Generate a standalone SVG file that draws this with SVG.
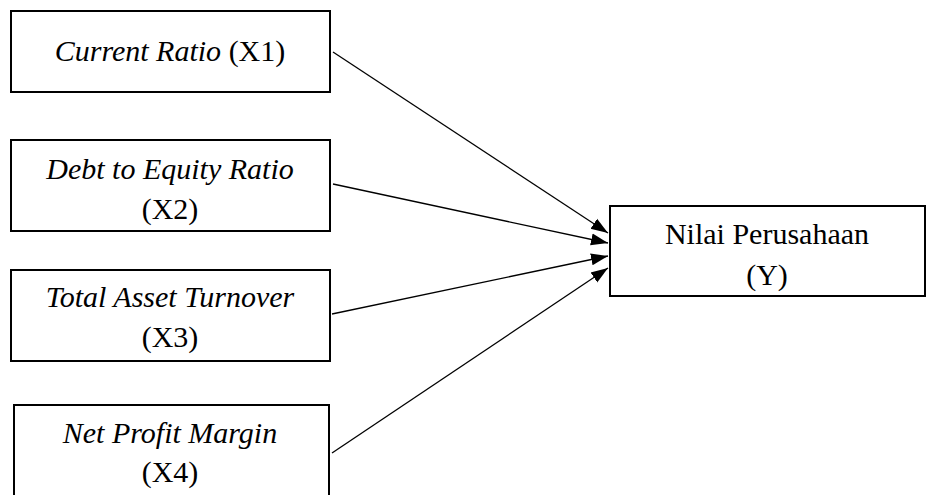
<svg xmlns="http://www.w3.org/2000/svg" width="928" height="495" viewBox="0 0 928 495">
<style>
.box{fill:#fff;stroke:#000;stroke-width:2}
.t{font-family:'Liberation Serif',Tinos,'Times New Roman',Times,'DejaVu Serif',serif;font-size:30px;fill:#000;text-anchor:middle}
.i{font-style:italic}
.c{stroke:#000;stroke-width:1.3;fill:none;marker-end:url(#ah)}
</style>
<defs>
<marker id="ah" markerUnits="userSpaceOnUse" markerWidth="18" markerHeight="14" refX="17" refY="7" orient="auto">
<path d="M0,1 L17,7 L0,13 Z" fill="#000"/>
</marker>
</defs>
<rect width="928" height="495" fill="#fff"/>
<g id="connectors">
<line class="c" x1="333" y1="52" x2="608" y2="233"/>
<line class="c" x1="333" y1="184" x2="608" y2="243"/>
<line class="c" x1="332" y1="314" x2="608" y2="256"/>
<line class="c" x1="332" y1="453" x2="608" y2="268"/>
</g>
<g id="x1">
<rect class="box" x="11" y="11" width="319" height="81"/>
<text class="t" font-family="Liberation Serif, serif" x="170" y="61"><tspan class="i">Current Ratio</tspan> (X1)</text>
</g>
<g id="x2">
<rect class="box" x="11" y="140" width="319" height="91"/>
<text class="t i" x="170" y="179">Debt to Equity Ratio</text>
<text class="t" x="170" y="219">(X2)</text>
</g>
<g id="x3">
<rect class="box" x="11" y="270" width="319" height="91"/>
<text class="t i" x="170" y="307">Total Asset Turnover</text>
<text class="t" x="170" y="347">(X3)</text>
</g>
<g id="x4">
<rect class="box" x="14" y="405" width="315" height="100"/>
<text class="t i" x="170" y="443">Net Profit Margin</text>
<text class="t" x="170" y="482">(X4)</text>
</g>
<g id="y">
<rect class="box" x="610" y="206" width="315" height="90"/>
<text class="t" x="767" y="244">Nilai Perusahaan</text>
<text class="t" x="767" y="285">(Y)</text>
</g>
</svg>
